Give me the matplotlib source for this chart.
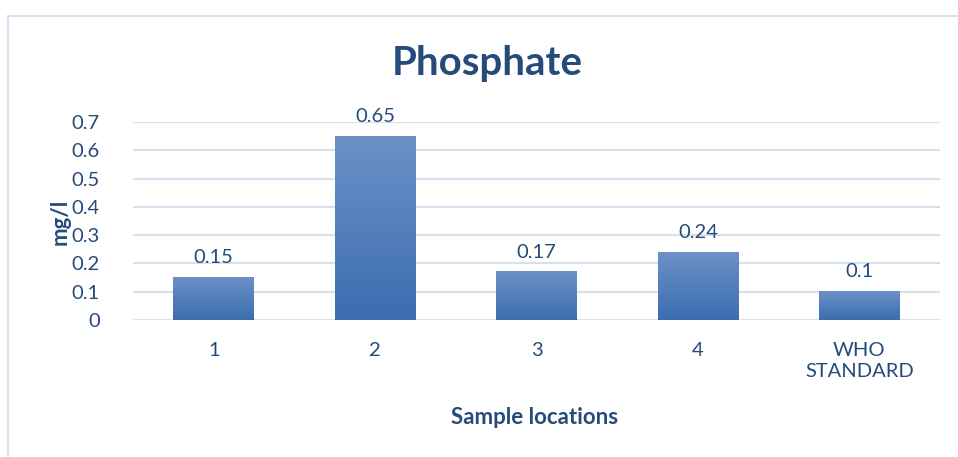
import matplotlib.pyplot as plt
import numpy as np
from matplotlib.patches import Rectangle

categories = ['1', '2', '3', '4', 'WHO\nSTANDARD']
values = [0.15, 0.65, 0.17, 0.24, 0.1]
yticks = [0, 0.1, 0.2, 0.3, 0.4, 0.5, 0.6, 0.7]

text_color = '#254B7A'
grid_color = '#D5E1F0'
plt.rcParams['font.family'] = ['Lato', 'DejaVu Sans']

fig = plt.figure(figsize=(9.58, 4.57), dpi=100)
ax = fig.add_axes([133/958, 1 - 320/457, (940-133)/958, (320-122)/457 * 1.0])

# chart border
fig.patches.append(Rectangle((8/958, -0.05), 1.0, 1.05 - 16/457, transform=fig.transFigure,
                             fill=False, edgecolor='#D6E3F1', linewidth=1.5))

x = np.arange(len(categories))
bars = ax.bar(x, values, width=0.5, color='none', zorder=3)

# vertical gradient, lighter at top
grad = np.linspace(0, 1, 256).reshape(-1, 1)
cmap = plt.matplotlib.colors.LinearSegmentedColormap.from_list('g', ['#3C6DB0', '#6C91C8'])
for b in bars:
    x0, y0, w, h = b.get_x(), b.get_y(), b.get_width(), b.get_height()
    ax.imshow(grad, cmap=cmap, origin='lower', aspect='auto',
              extent=(x0, x0 + w, y0, y0 + h), zorder=3)

for xi, v in zip(x, values):
    ax.text(xi, v + 0.04, f'{v:g}', ha='center', va='bottom', fontsize=14.5, color=text_color)

ax.set_xlim(-0.5, len(categories) - 0.5)
ax.set_ylim(0, 0.7)
ax.set_yticks(yticks)
ax.set_yticklabels([f'{t:g}' for t in yticks], fontsize=14.5, color=text_color)
ax.set_xticks(x)
ax.set_xticklabels(categories, fontsize=14.5, color=text_color, linespacing=1.25)
ax.tick_params(axis='x', length=0, pad=16)
ax.tick_params(axis='y', length=0, pad=24)
for s in ax.spines.values():
    s.set_visible(False)
ax.yaxis.grid(True, color=grid_color, linewidth=1.5, zorder=0)
ax.set_axisbelow(True)

fig.text(487/958, 1 - 64/457, 'Phosphate', ha='center', va='center', fontsize=29,
         fontweight='bold', color=text_color)
fig.text(60/958, 1 - 222/457, 'mg/l', ha='center', va='center', rotation=90, fontsize=16,
         fontweight='bold', color=text_color)
fig.text(535/958, 1 - 418/457, 'Sample locations', ha='center', va='center', fontsize=16,
         fontweight='bold', color=text_color)

fig.savefig('out.png', dpi=100)
